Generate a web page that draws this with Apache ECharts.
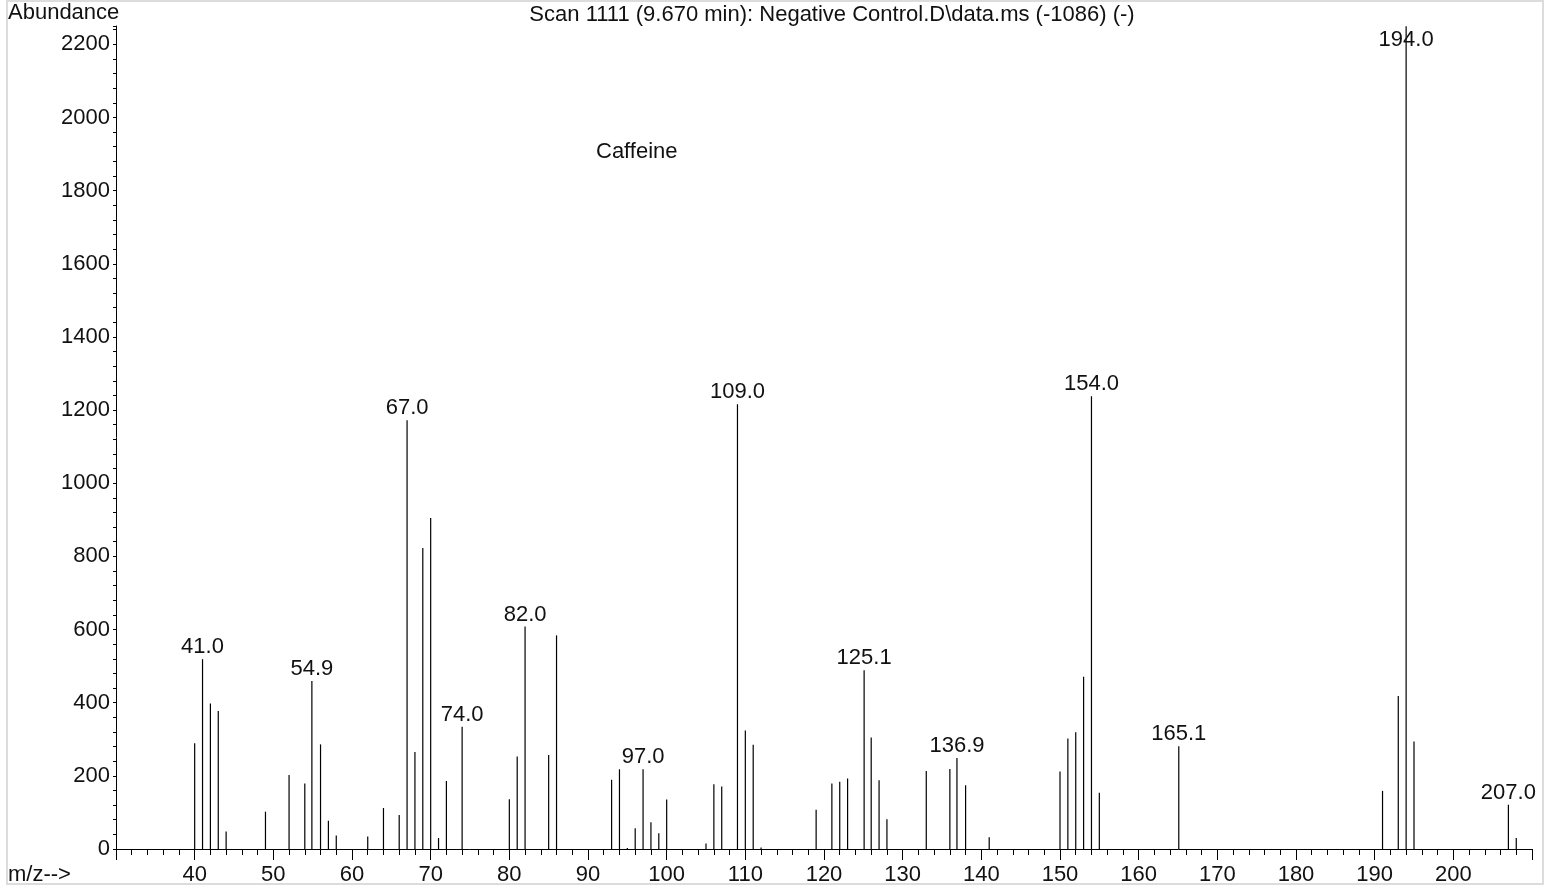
<!DOCTYPE html>
<html>
<head>
<meta charset="utf-8">
<script src="https://cdn.jsdelivr.net/npm/echarts@6/dist/echarts.min.js"></script>
<style>
html,body{margin:0;padding:0;background:#fff;}
#chart{width:1551px;height:888px;}
</style>
</head>
<body>
<div id="chart"></div>
<script>
// m/z values of the spectrum lines
var mz = [40, 41.0, 42, 43, 44, 49, 52, 54, 54.9, 56, 57, 58, 62, 64, 66, 67.0, 68, 69, 70, 71, 72, 74.0,
  80, 81, 82.0, 85, 86, 93, 94, 95, 96, 97.0, 98, 99, 100, 105, 106, 107, 109.0, 110, 111, 112,
  119, 121, 122, 123, 125.1, 126, 127, 128, 133, 136, 136.9, 138, 141,
  150, 151, 152, 153, 154.0, 155, 165.1, 191, 193, 194.0, 195, 207.0, 208];
// abundance of each line
var abundance = [289, 519, 398, 377, 48, 102, 202, 179, 459, 286, 77, 37, 34, 112, 93, 1172, 265, 823, 905, 30, 186, 334,
  136, 253, 608, 257, 584, 189, 218, 3, 57, 218, 73, 43, 135, 15, 177, 171, 1216, 324, 285, 4,
  107, 179, 184, 193, 489, 305, 188, 81, 213, 219, 249, 174, 32,
  212, 302, 319, 471, 1238, 154, 281, 159, 418, 2249, 294, 121, 30];
// peaks that carry an m/z label
var labeledPeaks = [41.0, 54.9, 67.0, 74.0, 82.0, 97.0, 109.0, 125.1, 136.9, 154.0, 165.1, 194.0, 207.0];
var titleText = 'Scan 1111 (9.670 min): Negative Control.D\\data.ms (-1086) (-)';
var compoundText = 'Caffeine';
var yAxisName = 'Abundance';
var xAxisName = 'm/z-->';

var FONT = '"Liberation Sans", Arial, sans-serif';
var FS = 22;
var data = mz.map(function (m, i) {
  return [m, abundance[i], labeledPeaks.indexOf(m) >= 0 ? m.toFixed(1) : ''];
});

var chart = echarts.init(document.getElementById('chart'));
chart.setOption({
  animation: false,
  backgroundColor: '#fff',
  grid: { left: 116, right: 19, top: 26, bottom: 39 },
  xAxis: {
    type: 'value', min: 30, max: 210, interval: 10,
    axisLine: { show: true, onZero: false, lineStyle: { color: '#000', width: 1 } },
    axisTick: { show: true, length: 11, lineStyle: { color: '#000' } },
    minorTick: { show: true, splitNumber: 5, length: 6, lineStyle: { color: '#000' } },
    splitLine: { show: false },
    axisLabel: { showMinLabel: false, showMaxLabel: false, margin: 15, color: '#111', fontSize: FS, fontFamily: FONT }
  },
  yAxis: {
    type: 'value', min: 0, max: 2250, interval: 40,
    axisLine: { show: true, lineStyle: { color: '#000', width: 1 } },
    axisTick: { show: true, length: 3, lineStyle: { color: '#000' } },
    splitLine: { show: false },
    axisLabel: {
      margin: 6, color: '#111', fontSize: FS, fontFamily: FONT,
      formatter: function (v) { return (v % 200 === 0) ? String(v) : ''; }
    }
  },
  series: [{
    type: 'custom',
    clip: false,
    data: data,
    renderItem: function (params, api) {
      var x = api.value(0), y = api.value(1);
      var top = api.coord([x, y]);
      var base = api.coord([x, 0]);
      var children = [{
        type: 'line',
        shape: { x1: top[0], y1: base[1], x2: top[0], y2: top[1] },
        style: { stroke: '#000', lineWidth: 1.2 }
      }];
      var lbl = data[params.dataIndex][2];
      if (lbl) {
        children.push({
          type: 'text',
          style: {
            text: lbl, x: top[0], y: Math.max(top[1] - 1, 51),
            align: 'center', verticalAlign: 'bottom',
            font: FS + 'px ' + FONT, fill: '#111'
          }
        });
      }
      return { type: 'group', children: children };
    }
  }],
  graphic: [
    { type: 'rect', shape: { x: 7, y: 1, width: 1536, height: 883 }, style: { fill: 'none', stroke: '#dcdcdc', lineWidth: 2 }, silent: true },
    { type: 'text', style: { text: yAxisName, x: 8, y: 13, verticalAlign: 'middle', font: FS + 'px ' + FONT, fill: '#111' } },
    { type: 'text', style: { text: xAxisName, x: 8, y: 875, verticalAlign: 'middle', font: FS + 'px ' + FONT, fill: '#111' } },
    { type: 'text', style: { text: titleText, x: 832, y: 15, align: 'center', verticalAlign: 'middle', font: FS + 'px ' + FONT, fill: '#111' } },
    { type: 'text', style: { text: compoundText, x: 596, y: 152, verticalAlign: 'middle', font: FS + 'px ' + FONT, fill: '#111' } }
  ]
});
</script>
</body>
</html>
